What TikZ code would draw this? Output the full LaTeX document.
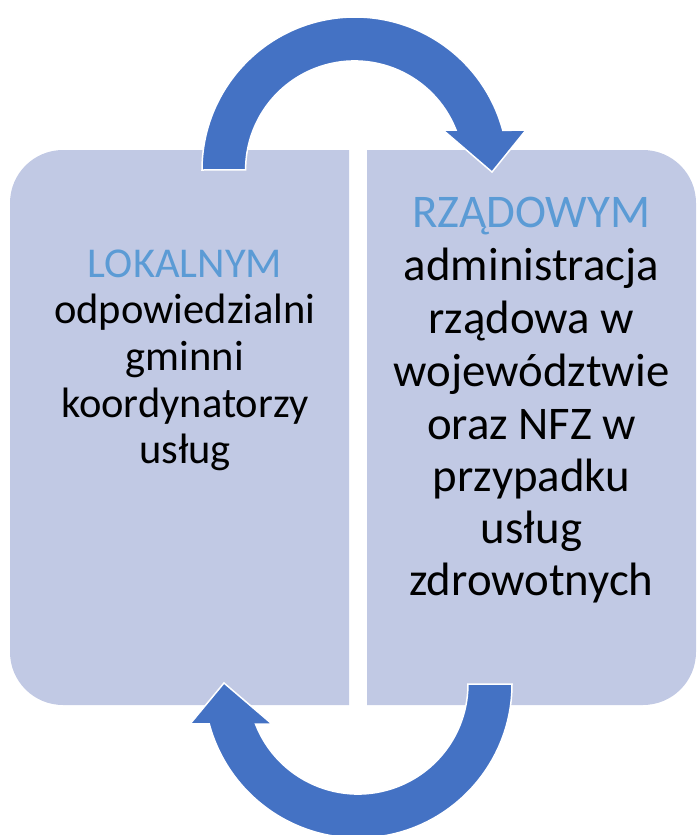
\documentclass[tikz,border=0pt]{standalone}
\usepackage{fontspec}
\setmainfont{Carlito}
\definecolor{boxfill}{RGB}{193,201,228}
\definecolor{arrowblue}{RGB}{68,114,196}
\definecolor{headblue}{RGB}{91,155,213}
\begin{document}
\begin{tikzpicture}[x=1pt,y=-1pt,
  panel/.style={fill=boxfill},
  cyclearrow/.style={fill=arrowblue,draw=white,line width=1.5pt,line join=miter},
  lefttxt/.style={anchor=base,inner sep=0pt,font=\fontsize{42.5}{46}\selectfont},
  righttxt/.style={anchor=base,inner sep=0pt,font=\fontsize{46.8}{52}\selectfont},
  head/.style={text=headblue}]
\useasboundingbox (0,0) rectangle (696,835);
% panels
\path[panel] (349,150) -- (63,150) arc[start angle=270,end angle=180,radius=53]
  -- (10,652) arc[start angle=180,end angle=90,radius=53] -- (349,705) -- cycle;
\path[panel] (367,150) -- (643,150) arc[start angle=270,end angle=360,radius=53]
  -- (696,652) arc[start angle=0,end angle=90,radius=53] -- (367,705) -- cycle;
% top arrow
\path[cyclearrow] (202,170) arc[start angle=180,end angle=345,radius=153]
  -- (526,130) -- (492,172) -- (443,130) -- (456,130)
  arc[start angle=338.5,end angle=180,radius=109] -- cycle;
% bottom arrow
\path[cyclearrow] (512,684) arc[start angle=0,end angle=165,radius=154]
  -- (190,724) -- (224,683) -- (272,724) -- (255.5,724)
  arc[start angle=158.7,end angle=0,radius=110] -- cycle;
% left text
\node[lefttxt,head] (l1) at (185,277) {LOKALNYM};
\node[lefttxt] (l2) at (185,323) {odpowiedzialni};
\node[lefttxt] (l3) at (185,370) {gminni};
\node[lefttxt] (l4) at (185,417) {koordynatorzy};
\node[lefttxt] (l5) at (185,463) {usług};
% right text
\node[righttxt,head] (r1) at (531.5,227) {RZĄDOWYM};
\node[righttxt] (r2) at (531.5,280) {administracja};
\node[righttxt] (r3) at (531.5,333) {rządowa w};
\node[righttxt] (r4) at (531.5,386) {województwie};
\node[righttxt] (r5) at (531.5,439) {oraz NFZ w};
\node[righttxt] (r6) at (531.5,491) {przypadku};
\node[righttxt] (r7) at (531.5,543) {usług};
\node[righttxt] (r8) at (531.5,595) {zdrowotnych};
\end{tikzpicture}
\end{document}
